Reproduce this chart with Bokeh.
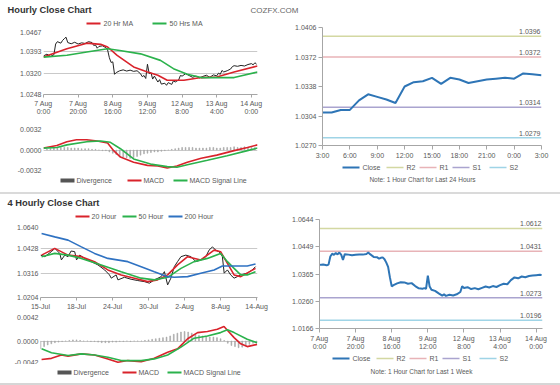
from bokeh.plotting import figure
from bokeh.models import Range1d, FixedTicker, Label, Spacer, BoxAnnotation
from bokeh.layouts import column, row
from bokeh.embed import file_html
from bokeh.resources import INLINE
from bokeh.core.properties import value

# ---------------- data ----------------
# Hourly close chart (hours since 7 Aug 0:00, weekend skipped)
h1_hours = [0, 2, 4, 6, 7, 8, 10, 11, 12, 13, 14, 16, 18, 20, 22, 24, 26, 28, 29, 30, 31, 32, 34, 36, 37, 38, 39, 40,
            41, 42, 44, 46, 48, 50, 52, 54, 56, 57, 58, 59, 60, 61, 62, 63, 64, 66, 67, 68, 70, 71, 72, 74, 75, 76,
            78, 79, 80, 82, 84, 86, 88, 90, 92, 94, 96, 98, 100, 101, 102, 103, 104, 106, 108, 109, 110, 112, 114,
            116, 118, 120, 121, 122, 123]
h1_close = [1.0378, 1.0384, 1.0376, 1.0382, 1.0418, 1.0426, 1.0421, 1.0430, 1.0436, 1.0441, 1.0423, 1.0419, 1.0424,
            1.0418, 1.0422, 1.0420, 1.0426, 1.0423, 1.0413, 1.0415, 1.0404, 1.0410, 1.0412, 1.0406, 1.0398, 1.0372,
            1.0356, 1.0358, 1.0316, 1.0322, 1.0328, 1.0331, 1.0327, 1.0330, 1.0326, 1.0328, 1.0318, 1.0308, 1.0312,
            1.0302, 1.0350, 1.0318, 1.0322, 1.0300, 1.0310, 1.0290, 1.0298, 1.0283, 1.0286, 1.0279, 1.0288, 1.0282,
            1.0294, 1.0290, 1.0297, 1.0312, 1.0310, 1.0318, 1.0312, 1.0306, 1.0310, 1.0304, 1.0309, 1.0313, 1.0306,
            1.0314, 1.0311, 1.0320, 1.0316, 1.0329, 1.0324, 1.0328, 1.0334, 1.0342, 1.0345, 1.0343, 1.0346, 1.0344,
            1.0349, 1.0352, 1.0348, 1.0355, 1.0350]
h1_ma20_x = [0, 13.5, 25, 33, 37, 42.5, 52, 60, 66, 71.4, 81, 91, 100, 110, 123.5]
h1_ma20 = [1.0374, 1.0402, 1.0421, 1.0417, 1.0408, 1.0380, 1.0341, 1.0324, 1.0313, 1.0296, 1.0296, 1.0305, 1.0307,
           1.0324, 1.0344]
h1_ma50_x = [0, 13.5, 25, 37, 44, 56, 67.5, 75, 83, 91, 100, 110, 123.5]
h1_ma50 = [1.0374, 1.0380, 1.0391, 1.0402, 1.0396, 1.0385, 1.0363, 1.0335, 1.0316, 1.0305, 1.0305, 1.0305, 1.0324]
h1_macd_x = [0, 7.7, 13.5, 19, 25, 31, 37, 40.5, 44.4, 52, 60, 66, 71.4, 77, 83, 91, 100, 110, 117.7, 123.5]
h1_macd = [0.0003, 0.0007, 0.0013, 0.0016, 0.0016, 0.0014, 0.0011, -0.0001, -0.0011, -0.0019, -0.0024, -0.0025,
           -0.0028, -0.0025, -0.0019, -0.0013, -0.0008, -0.0001, 0.0004, 0.0008]
h1_signal_x = [0, 7.7, 13.5, 25, 33, 38.6, 44.4, 52, 61.8, 71.4, 77, 83, 94.6, 106, 117.7, 123.5]
h1_signal = [0.0003, 0.0004, 0.0008, 0.0013, 0.0014, 0.0012, 0.0002, -0.0014, -0.0022, -0.0026, -0.0027, -0.0023,
             -0.0016, -0.0009, -0.0001, 0.0003]
h1_div_x = list(range(0, 124, 2))
h1_div = [0.0000, 0.0001, 0.0002, 0.0003, 0.0003, 0.0004, 0.0004, 0.0004, 0.0003, 0.0003, 0.0003, 0.0002, 0.0002,
          0.0002, 0.0001, 0.0001, 0.0000, -0.0001, -0.0001, -0.0003, -0.0005, -0.0007, -0.0009, -0.0011, -0.0012,
          -0.0013, -0.0012, -0.0010, -0.0008, -0.0006, -0.0005, -0.0004, -0.0003, -0.0003, -0.0002, -0.0001,
          0.0000, 0.0001, 0.0002, 0.0003, 0.0004, 0.0004, 0.0004, 0.0004, 0.0003, 0.0003, 0.0003, 0.0003, 0.0004,
          0.0004, 0.0003, 0.0003, 0.0004, 0.0004, 0.0004, 0.0005, 0.0004, 0.0004, 0.0005, 0.0004, 0.0004, 0.0004]
hour_ticks = [0, 20, 40, 60, 80, 100, 120]
hour_tick_labels = ["7 Aug\n0:00", "7 Aug\n20:00", "8 Aug\n16:00", "9 Aug\n12:00", "12 Aug\n8:00",
                    "13 Aug\n4:00", "14 Aug\n0:00"]
h1_price_ticks = [1.0248, 1.0320, 1.0393, 1.0467]
h1_macd_ticks = [-0.0032, 0.0, 0.0032]

# 4 hourly close chart (bar index)
h4_idx = [0, 2.4, 6, 8, 10.7, 11.6, 13.5, 15.3, 17, 19, 20, 21.8, 24.5, 28.2, 31.9, 35.6, 38.3, 39.3, 42, 43, 46.6,
          50.3, 54, 57.7, 60.5, 63.2, 67, 68.8, 70.6, 72.4, 74.3, 76.1, 78, 80.7, 83.5, 86.3, 89, 91.8, 93.6, 95.5,
          97.3, 99.2, 101, 102, 103.8, 105.6, 107.5, 109.3, 111.2, 114.8, 117.6, 119.4]
h4_close = [1.0399, 1.0392, 1.0415, 1.0430, 1.0407, 1.0377, 1.0399, 1.0392, 1.0418, 1.0415, 1.0377, 1.0399, 1.0384,
            1.0369, 1.0354, 1.0331, 1.0308, 1.0293, 1.0308, 1.0285, 1.0297, 1.0288, 1.0282, 1.0277, 1.0270, 1.0285,
            1.0300, 1.0323, 1.0262, 1.0293, 1.0346, 1.0369, 1.0392, 1.0399, 1.0392, 1.0369, 1.0377, 1.0392, 1.0422,
            1.0437, 1.0422, 1.0415, 1.0392, 1.0316, 1.0331, 1.0308, 1.0293, 1.0300, 1.0308, 1.0316, 1.0331, 1.0346]
h4_ma20_x = [0.6, 7.9, 15.3, 22.7, 30, 37.4, 44.8, 52.2, 59.5, 65, 70.6, 76.1, 81.7, 89, 96.4, 100, 103.8, 107.5,
             111.2, 119.4]
h4_ma20 = [1.0399, 1.0430, 1.0399, 1.0392, 1.0369, 1.0331, 1.0308, 1.0293, 1.0277, 1.0285, 1.0308, 1.0354, 1.0392,
           1.0377, 1.0422, 1.0415, 1.0361, 1.0308, 1.0300, 1.0338]
h4_ma50_x = [0.6, 7.9, 15.3, 22.7, 33.7, 44.8, 55.9, 63.2, 70.6, 78, 85.3, 92.7, 100, 103.8, 107.5, 111.2, 114.8,
             119.4]
h4_ma50 = [1.0392, 1.0407, 1.0399, 1.0384, 1.0354, 1.0323, 1.0293, 1.0285, 1.0297, 1.0338, 1.0369, 1.0384, 1.0407,
           1.0369, 1.0338, 1.0308, 1.0308, 1.0323]
h4_ma200_x = [0.6, 7.9, 15.3, 22.7, 30, 37.4, 48.5, 55.9, 63.2, 70.6, 74.3, 81.7, 89, 96.4, 101, 107.5, 114.8, 119.4]
h4_ma200 = [1.0499, 1.0483, 1.0468, 1.0437, 1.0407, 1.0384, 1.0369, 1.0346, 1.0323, 1.0300, 1.0297, 1.0300, 1.0316,
            1.0331, 1.0349, 1.0349, 1.0349, 1.0358]
h4_macd_x = [0.6, 6.1, 11.6, 15.3, 22.7, 30, 37.4, 43, 48.5, 55.9, 63.2, 70.6, 76.1, 81.7, 87.2, 92.7, 98.2, 101.9,
             107.5, 111.2, 114.8, 120.3]
h4_macd = [-0.0033, -0.0031, -0.0025, -0.0027, -0.0023, -0.0025, -0.0032, -0.0038, -0.0035, -0.0037, -0.0031,
           -0.0020, -0.0014, 0.0004, 0.0015, 0.0017, 0.0021, 0.0026, 0.0006, -0.0005, -0.0010, -0.0006]
h4_signal_x = [0.6, 6.1, 15.3, 22.7, 30, 37.4, 44.8, 55.9, 63.2, 70.6, 78, 85.3, 92.7, 100, 103.8, 107.5, 114.8, 120.3]
h4_signal = [-0.0014, -0.0021, -0.0026, -0.0023, -0.0025, -0.0029, -0.0035, -0.0035, -0.0032, -0.0025, -0.0011,
             0.0005, 0.0009, 0.0015, 0.0020, 0.0015, 0.0003, -0.0003]
h4_div_x = list(range(0, 122, 2))
h4_div = [-0.0014, -0.0010, -0.0007, -0.0005, -0.0003, -0.0002, -0.0001, 0.0000, 0.0001, 0.0002, 0.0002, 0.0001,
          0.0000, 0.0000, -0.0001, -0.0001, -0.0002, -0.0003, -0.0003, -0.0003, -0.0002, -0.0002, -0.0001, -0.0001,
          0.0000, -0.0001, 0.0000, 0.0000, 0.0000, 0.0001, 0.0002, 0.0003, 0.0004, 0.0005, 0.0006, 0.0007, 0.0009,
          0.0012, 0.0014, 0.0016, 0.0017, 0.0016, 0.0014, 0.0012, 0.0010, 0.0009, 0.0008, 0.0007, 0.0007, 0.0006,
          0.0004, 0.0001, -0.0004, -0.0008, -0.0010, -0.0012, -0.0011, -0.0009, -0.0006, -0.0004, -0.0003]
h4_ticks = [0, 20, 40, 60, 80, 100, 120]
h4_tick_labels = ["15-Jul", "18-Jul", "24-Jul", "30-Jul", "2-Aug", "8-Aug", "14-Aug"]
h4_price_ticks = [1.0204, 1.0316, 1.0428, 1.0540]
h4_price_tick_labels = ["1.0204", "1.0316", "1.0428", "1.0640"]
h4_macd_ticks = [-0.0042, 0.0, 0.0042]

# Last 24 hours (pivot levels)
day_hours = list(range(0, 25))
day_close = [1.0308, 1.0308, 1.0311, 1.0311, 1.0322, 1.0329, 1.0326, 1.0323, 1.0319, 1.0338, 1.0343, 1.0344,
             1.0348, 1.0341, 1.0348, 1.0346, 1.0342, 1.0344, 1.0346, 1.0347, 1.0348, 1.0347, 1.0353, 1.0352, 1.0351]
day_ticks = [0, 3, 6, 9, 12, 15, 18, 21, 24]
day_tick_labels = ["3:00", "6:00", "9:00", "12:00", "15:00", "18:00", "21:00", "0:00", "3:00"]
day_price_ticks = [1.0270, 1.0304, 1.0338, 1.0372, 1.0406]
day_levels = [1.0396, 1.0372, 1.0314, 1.0279]
day_level_labels = ["1.0396", "1.0372", "1.0314", "1.0279"]

# Last 1 week (pivot levels)
week_hours = [0, 2, 4, 5, 6, 7, 8, 9, 10, 11, 12, 13, 14, 16, 18, 20, 22, 24, 26, 27, 28, 30, 32, 33, 34, 35, 36, 37,
              38, 39, 40, 41, 43, 45, 47, 49, 51, 53, 55, 57, 58, 59, 60, 61, 62, 64, 66, 68, 69, 70, 72, 74, 76,
              78, 79, 80, 82, 84, 86, 88, 90, 92, 94, 96, 98, 100, 102, 104, 106, 108, 110, 112, 114, 116, 118, 120,
              122, 123]
week_close = [1.0445, 1.0447, 1.0443, 1.0446, 1.0482, 1.0494, 1.0489, 1.0497, 1.0491, 1.0499, 1.0490, 1.0467,
              1.0492, 1.0490, 1.0487, 1.0489, 1.0491, 1.0490, 1.0493, 1.0499, 1.0492, 1.0480, 1.0478, 1.0472, 1.0476,
              1.0478, 1.0470, 1.0455, 1.0436, 1.0390, 1.0351, 1.0356, 1.0364, 1.0369, 1.0368, 1.0362, 1.0365, 1.0352,
              1.0342, 1.0340, 1.0343, 1.0340, 1.0398, 1.0350, 1.0336, 1.0331, 1.0320, 1.0310, 1.0316, 1.0309, 1.0314,
              1.0311, 1.0316, 1.0326, 1.0351, 1.0344, 1.0347, 1.0339, 1.0343, 1.0338, 1.0344, 1.0350, 1.0346, 1.0352,
              1.0348, 1.0356, 1.0362, 1.0360, 1.0378, 1.0390, 1.0386, 1.0394, 1.0391, 1.0396, 1.0398, 1.0400, 1.0402,
              1.0401]
week_price_ticks = [1.0166, 1.02855, 1.0405, 1.05245, 1.0644]
week_price_tick_labels = ["1.0166", "1.0260", "1.0365", "1.0449", "1.0644"]
week_levels = [1.0605, 1.0505, 1.0301, 1.0202]
week_level_labels = ["1.0612", "1.0431", "1.0273", "1.0196"]

level_names = ["R2", "R1", "S1", "S2"]
ma_names_h1 = ["20 Hr MA", "50 Hrs MA"]
ma_names_h4 = ["20 Hour", "50 Hour", "200 Hour"]
macd_names = ["Divergence", "MACD", "MACD Signal Line"]

# ---------------- styles ----------------
FONT = "Liberation Sans"
TXT = "#595959"
GRID = "#c9c9c9"
AXIS = "#a6a6a6"
RED = "#d9232b"
GREEN = "#2bb24c"
BLUE = "#2f72c2"
BLACK = "#222222"
CLOSE_BLUE = "#2e75b6"
LEVEL_COLORS = ["#d3d8a2", "#e8b3b7", "#aaa4cf", "#9fd4e6"]
DIV_GRAY = "#a8a8a8"
DIV_LEG = "#555555"
LEFT_W, RIGHT_W = 270, 290


def fmt4(vals):
    return ["%.4f" % v for v in vals]


def base_fig(w, h, bl, br, bt, bb, xr, yr, xaxis=True, yaxis=True):
    p = figure(width=w, height=h, x_range=Range1d(*xr), y_range=Range1d(*yr),
               output_backend="svg", toolbar_location=None, title=None,
               min_border_left=bl, min_border_right=br, min_border_top=bt, min_border_bottom=bb,
               x_axis_location="below" if xaxis else None,
               y_axis_location="left" if yaxis else None)
    p.outline_line_color = None
    p.background_fill_color = "white"
    p.border_fill_color = "white"
    for g in p.grid:
        g.visible = False
    return p


def strip(w, h):
    s = figure(width=w, height=h, x_range=Range1d(0, 1), y_range=Range1d(0, 1),
               output_backend="svg", toolbar_location=None, title=None, min_border=0,
               x_axis_location=None, y_axis_location=None)
    s.outline_line_color = None
    s.background_fill_color = "white"
    s.border_fill_color = "white"
    for g in s.grid:
        g.visible = False
    return s


def style_axis(ax, ticks, labels, line_color, tick_out):
    ax.ticker = FixedTicker(ticks=ticks)
    ax.major_label_overrides = dict(zip(ticks, labels))
    ax.major_label_text_font = FONT
    ax.major_label_text_font_size = "7px"
    ax.major_label_text_color = TXT
    ax.major_label_standoff = 2
    ax.axis_line_color = line_color
    ax.major_tick_line_color = AXIS
    ax.major_tick_out = tick_out
    ax.major_tick_in = 0
    ax.minor_tick_line_color = None


def hgrid(p, ticks):
    p.ygrid.visible = True
    p.ygrid.ticker = FixedTicker(ticks=ticks)
    p.ygrid.grid_line_color = GRID
    p.ygrid.grid_line_width = 1


def add_text(p, x, y, txt, size, bold=False, align="left", color=TXT):
    p.add_layout(Label(x=x, y=y, x_units="screen", y_units="screen", text=txt,
                       text_font=FONT, text_font_size=size,
                       text_font_style="bold" if bold else "normal",
                       text_color=color, text_align=align, text_baseline="middle"))


def key_row(s, y, names, colors, thick, starts, glyph_w, gap):
    # legend: a swatch followed by its label, for each series
    # (x positions are relative to the plot frame, which lines up with the chart above/below)
    for n, c, t, x0 in zip(names, colors, thick, starts):
        s.add_layout(BoxAnnotation(left=x0, right=x0 + glyph_w, bottom=y - t / 2.0, top=y + t / 2.0,
                                   left_units="screen", right_units="screen",
                                   bottom_units="screen", top_units="screen",
                                   fill_color=c, fill_alpha=1.0, line_color=None))
        add_text(s, x0 + glyph_w + gap, y, n, "7px")


# ---------------- header ----------------
head = strip(LEFT_W + RIGHT_W, 17)
add_text(head, 7, 8, "Hourly Close Chart", "9.3px", bold=True, color="#333333")
add_text(head, 250, 7, "COZFX.COM", "8px", color="#666666")

# ---------------- hourly price ----------------
leg1 = strip(LEFT_W, 12)
key_row(leg1, 6, ma_names_h1, [RED, GREEN], [2, 2], [43, 109], 14, 3)

H1_X = (0, 123.5)
p1 = base_fig(LEFT_W, 89, 43, 13, 0, 24, H1_X, (h1_price_ticks[0], h1_price_ticks[-1]))
style_axis(p1.xaxis, hour_ticks, hour_tick_labels, AXIS, 3)
style_axis(p1.yaxis, h1_price_ticks, fmt4(h1_price_ticks), None, 0)
hgrid(p1, h1_price_ticks)
p1.line(h1_hours, h1_close, line_color=BLACK, line_width=1)
p1.line(h1_ma20_x, h1_ma20, line_color=RED, line_width=1.6)
p1.line(h1_ma50_x, h1_ma50, line_color=GREEN, line_width=1.6)

# ---------------- hourly MACD ----------------
p2 = base_fig(LEFT_W, 56, 43, 13, 11, 4, H1_X, (h1_macd_ticks[0], h1_macd_ticks[-1]), xaxis=False)
style_axis(p2.yaxis, h1_macd_ticks, fmt4(h1_macd_ticks), None, 0)
hgrid(p2, h1_macd_ticks)
p2.vbar(x=h1_div_x, top=h1_div, bottom=0, width=0.45, fill_color=DIV_GRAY, line_color=DIV_GRAY, line_width=0.6)
p2.line(h1_macd_x, h1_macd, line_color=RED, line_width=1.6)
p2.line(h1_signal_x, h1_signal, line_color=GREEN, line_width=1.6)

leg2 = strip(LEFT_W, 18)
key_row(leg2, 12, macd_names, [DIV_LEG, RED, GREEN], [4, 2, 2], [17, 84, 130], 14, 2)

# ---------------- last 24 hours ----------------
DAY_X = (0, 24)
p3 = base_fig(RIGHT_W, 144, 52, 19, 10, 16, DAY_X, (day_price_ticks[0], day_price_ticks[-1]))
style_axis(p3.xaxis, day_ticks, day_tick_labels, AXIS, 4)
style_axis(p3.yaxis, day_price_ticks, fmt4(day_price_ticks), AXIS, 4)
for lv, c in zip(day_levels, LEVEL_COLORS):
    p3.line([DAY_X[0], DAY_X[1]], [lv, lv], line_color=c, line_width=1.5)
p3.text(x=[DAY_X[1]] * len(day_levels), y=day_levels, text=day_level_labels, text_font=value(FONT),
        text_font_size=value("7px"), text_color=TXT, text_align="right", text_baseline="bottom",
        x_offset=-1, y_offset=-2)
p3.line(day_hours, day_close, line_color=CLOSE_BLUE, line_width=2)

leg3 = strip(RIGHT_W, 31)
key_row(leg3, 25, ["Close"] + level_names, [CLOSE_BLUE] + LEVEL_COLORS, [2, 1.5, 1.5, 1.5, 1.5],
        [20, 64, 97, 130, 167], 17, 3)
add_text(leg3, 100, 13, "Note: 1 Hour Chart for Last 24 Hours", "6.5px", align="center")

sep1 = Spacer(width=LEFT_W + RIGHT_W, height=2, margin=0, styles={"background-color": "#dadada"})

# ---------------- 4 hourly price ----------------
head2 = strip(LEFT_W + RIGHT_W, 16)
add_text(head2, 7, 8, "4 Hourly Close Chart", "9.3px", bold=True, color="#333333")

top4 = strip(LEFT_W, 14)
key_row(top4, 8, ma_names_h4, [RED, GREEN, BLUE], [2, 2, 2], [35, 82, 128], 14, 2)

H4_X = (0, 120.5)
p4 = base_fig(LEFT_W, 88, 40, 13, 0, 14, H4_X, (h4_price_ticks[0], h4_price_ticks[-1]))
style_axis(p4.xaxis, h4_ticks, h4_tick_labels, AXIS, 3)
style_axis(p4.yaxis, h4_price_ticks, h4_price_tick_labels, None, 0)
hgrid(p4, h4_price_ticks)
p4.line(h4_idx, h4_close, line_color=BLACK, line_width=1)
p4.line(h4_ma20_x, h4_ma20, line_color=RED, line_width=1.6)
p4.line(h4_ma50_x, h4_ma50, line_color=GREEN, line_width=1.6)
p4.line(h4_ma200_x, h4_ma200, line_color=BLUE, line_width=1.6)

# ---------------- 4 hourly MACD ----------------
p5 = base_fig(LEFT_W, 52, 40, 13, 5, 0, H4_X, (h4_macd_ticks[0], h4_macd_ticks[-1]), xaxis=False)
style_axis(p5.yaxis, h4_macd_ticks, fmt4(h4_macd_ticks), None, 0)
hgrid(p5, h4_macd_ticks)
p5.vbar(x=h4_div_x, top=h4_div, bottom=0, width=0.45, fill_color=DIV_GRAY, line_color=DIV_GRAY, line_width=0.6)
p5.line(h4_macd_x, h4_macd, line_color=RED, line_width=1.6)
p5.line(h4_signal_x, h4_signal, line_color=GREEN, line_width=1.6)

leg5 = strip(LEFT_W, 19)
key_row(leg5, 11, macd_names, [DIV_LEG, RED, GREEN], [4, 2, 2], [17, 82, 127], 14, 2)

# ---------------- last week ----------------
WEEK_X = (0, 123.5)
p6 = base_fig(RIGHT_W, 142, 49, 18, 9, 23, WEEK_X, (week_price_ticks[0], week_price_ticks[-1]))
style_axis(p6.xaxis, hour_ticks, hour_tick_labels, AXIS, 4)
style_axis(p6.yaxis, week_price_ticks, week_price_tick_labels, AXIS, 4)
for lv, c in zip(week_levels, LEVEL_COLORS):
    p6.line([WEEK_X[0], WEEK_X[1]], [lv, lv], line_color=c, line_width=1.5)
p6.text(x=[WEEK_X[1]] * len(week_levels), y=week_levels, text=week_level_labels, text_font=value(FONT),
        text_font_size=value("7px"), text_color=TXT, text_align="right", text_baseline="bottom",
        x_offset=-1, y_offset=-2)
p6.line(week_hours, week_close, line_color=CLOSE_BLUE, line_width=2)

leg6 = strip(RIGHT_W, 31)
key_row(leg6, 25, ["Close"] + level_names, [CLOSE_BLUE] + LEVEL_COLORS, [2, 1.5, 1.5, 1.5, 1.5],
        [13, 57, 90, 123, 160], 17, 3)
add_text(leg6, 102, 12, "Note: 1 Hour Chart for Last 1 Week", "6.5px", align="center")

sep2 = Spacer(width=LEFT_W + RIGHT_W, height=2, margin=0, styles={"background-color": "#d6d6d6"})

layout = column(head,
                row(column(leg1, p1, p2, leg2, spacing=0), column(p3, leg3, spacing=0), spacing=0),
                sep1,
                head2,
                row(column(top4, p4, p5, leg5, spacing=0), column(p6, leg6, spacing=0), spacing=0),
                sep2, spacing=0)

with open("out.html", "w") as f:
    f.write(file_html(layout, INLINE))
